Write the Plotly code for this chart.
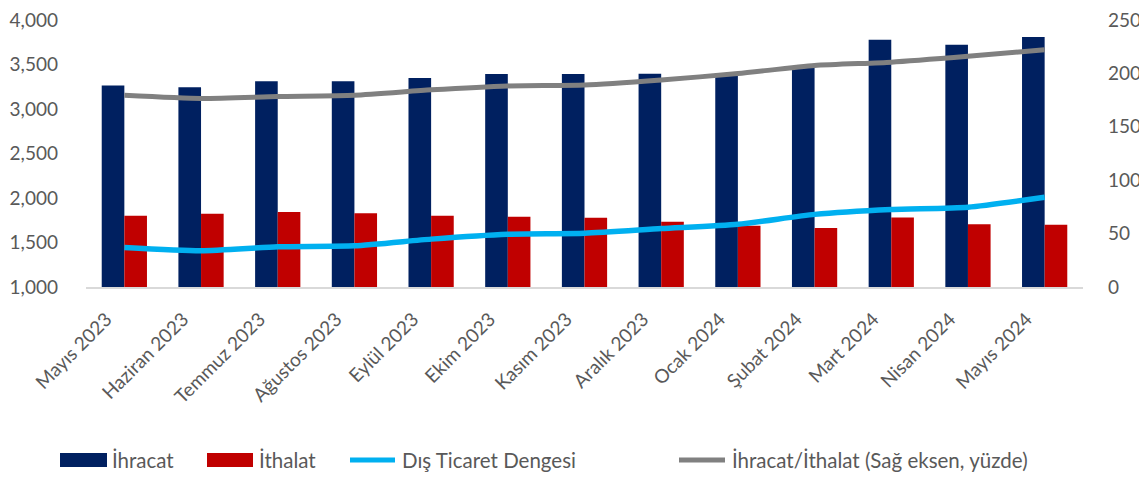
import plotly.graph_objects as go

months = ["Mayıs 2023", "Haziran 2023", "Temmuz 2023", "Ağustos 2023", "Eylül 2023",
          "Ekim 2023", "Kasım 2023", "Aralık 2023", "Ocak 2024", "Şubat 2024",
          "Mart 2024", "Nisan 2024", "Mayıs 2024"]
ihracat = [3263, 3244, 3311, 3311, 3349, 3393, 3393, 3397, 3405, 3480, 3778, 3722, 3808]
ithalat = [1800, 1822, 1844, 1830, 1800, 1789, 1778, 1733, 1689, 1663, 1781, 1704, 1700]
denge = [1444, 1408, 1452, 1463, 1538, 1593, 1604, 1656, 1704, 1816, 1871, 1897, 2008]
oran = [179.6, 176.6, 178.4, 179.6, 184.6, 188.3, 189.2, 193.9, 199.8, 207.4, 210.5, 216.0, 222.2]

names = ["İhracat", "İthalat", "Dış Ticaret Dengesi", "İhracat/İthalat (Sağ eksen, yüzde)"]
colors = ["#002060", "#C00000", "#00B0F0", "#808080"]

font_fam = "Lato, 'Open Sans', sans-serif"
txt_col = "#595959"

# page has an 8px body margin; figure sized/positioned to compensate
OFF = 8
W, H = 1147 - OFF, 477 - OFF
L, T = 86 - OFF, 20 - OFF
R = W - (1083 - OFF)
B = H - (287 - OFF)
PW, PH = W - L - R, H - T - B


def px_x(p):
    return (p - OFF - L) / PW


def px_y(p):
    return (H - B - (p - OFF)) / PH


fig = go.Figure()
fig.add_trace(go.Bar(x=months, y=ihracat, name=names[0], marker_color=colors[0],
                     marker_line_width=0, showlegend=False))
fig.add_trace(go.Bar(x=months, y=ithalat, name=names[1], marker_color=colors[1],
                     marker_line_width=0, showlegend=False))
fig.add_trace(go.Scatter(x=months, y=denge, name=names[2], mode="lines", showlegend=False,
                         line=dict(color=colors[2], width=5.5, shape="spline", smoothing=0.6)))
fig.add_trace(go.Scatter(x=months, y=oran, name=names[3], mode="lines", yaxis="y2",
                         showlegend=False,
                         line=dict(color=colors[3], width=5, shape="spline", smoothing=0.6)))

# custom legend (decoration only), positions in page pixels
leg_y = 460
items = [(60, 107, 110, "rect"), (207, 253, 257, "rect"), (348, 397, 400, "line"),
         (677, 727, 730, "line")]
shapes = []
annotations = []
for (x0, x1, xt, kind), nm, col in zip(items, names, colors):
    if kind == "rect":
        shapes.append(dict(type="rect", xref="paper", yref="paper",
                           x0=px_x(x0), x1=px_x(x1), y0=px_y(leg_y + 7), y1=px_y(leg_y - 7),
                           fillcolor=col, line=dict(width=0)))
    else:
        shapes.append(dict(type="line", xref="paper", yref="paper",
                           x0=px_x(x0 + 2), x1=px_x(x1 - 2), y0=px_y(leg_y), y1=px_y(leg_y),
                           line=dict(color=col, width=5)))
    annotations.append(dict(xref="paper", yref="paper", x=px_x(xt), y=px_y(leg_y),
                            xanchor="left", yanchor="middle", text=nm, showarrow=False,
                            font=dict(size=20.5, color=txt_col, family=font_fam)))

fig.update_layout(
    width=W, height=H,
    margin=dict(l=L, r=R, t=T, b=B),
    paper_bgcolor="white", plot_bgcolor="white",
    barmode="group", bargap=0.41, bargroupgap=0,
    font=dict(family=font_fam, size=19, color=txt_col),
    showlegend=False,
    shapes=shapes,
    annotations=annotations,
    xaxis=dict(tickangle=-45, showgrid=False, showline=True, linecolor="#D9D9D9",
               linewidth=1.5, ticks="", automargin=False,
               ticklabelshift=-18, ticklabelstandoff=12,
               tickfont=dict(size=19, color=txt_col)),
    yaxis=dict(range=[1000, 4000], dtick=500, tickformat=",", showgrid=False,
               showline=False, zeroline=False, ticks="", automargin=False,
               ticklabeloverflow="allow",
               ticklabelstandoff=27, tickfont=dict(size=19, color=txt_col)),
    yaxis2=dict(range=[0, 250], dtick=50, overlaying="y", side="right", showgrid=False,
                showline=False, zeroline=False, ticks="", automargin=False,
                ticklabeloverflow="allow",
                ticklabelstandoff=24, tickfont=dict(size=19, color=txt_col)),
)

fig.write_html("out.html")
